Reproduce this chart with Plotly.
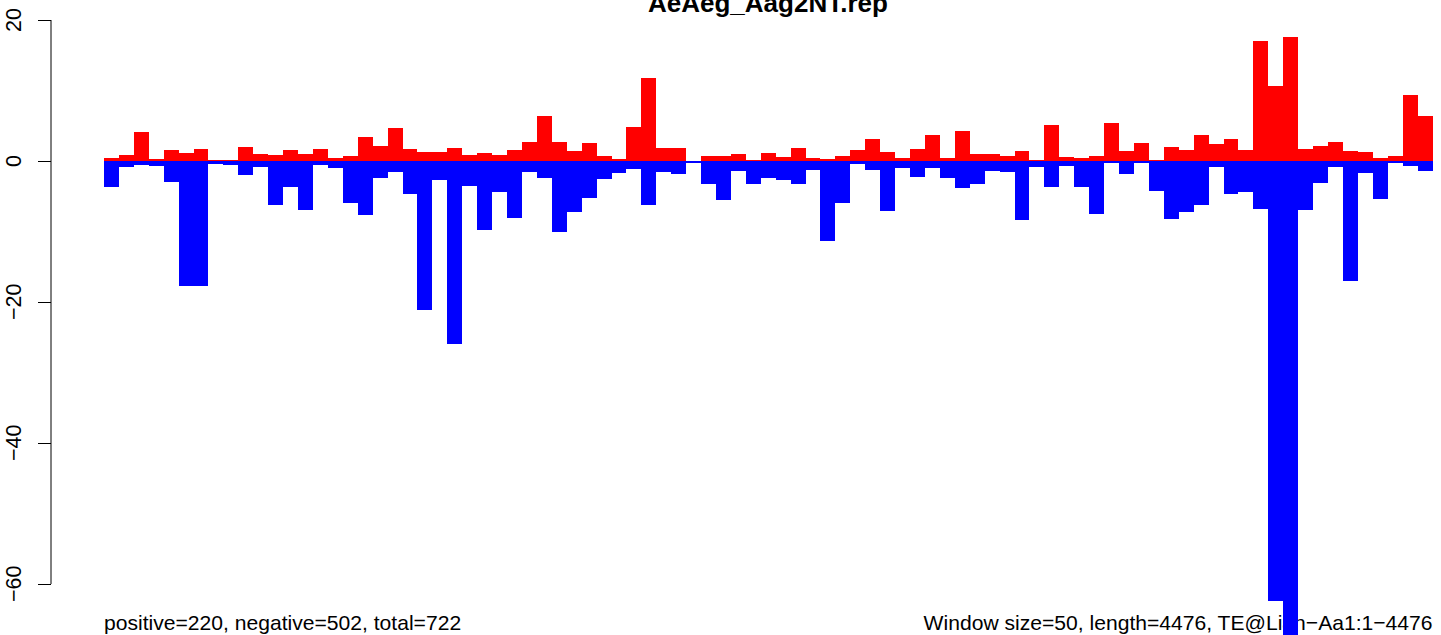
import numpy as np
import plotly.graph_objects as go

title = "AeAeg_Aag2NT.rep"

positive = [0.43, 0.85, 4.11, 0.28, 1.56, 1.13, 1.70, 0.14, 0.14, 1.99,
            0.99, 0.85, 1.56, 0.99, 1.70, 0.43, 0.71, 3.40, 2.13, 4.68,
            1.70, 1.28, 1.28, 1.84, 0.85, 1.13, 0.85, 1.56, 2.70, 6.38,
            2.70, 1.42, 2.55, 0.71, 0.28, 4.82, 11.8, 1.84, 1.84, 0.0,
            0.71, 0.71, 0.99, 0.14, 1.13, 0.57, 1.84, 0.43, 0.28, 0.71,
            1.56, 3.12, 1.28, 0.43, 1.70, 3.69, 0.43, 4.26, 0.99, 0.99,
            0.71, 1.42, 0.14, 5.11, 0.57, 0.43, 0.71, 5.39, 1.42, 2.55,
            0.14, 1.99, 1.56, 3.69, 2.41, 3.12, 1.56, 17.0, 10.64, 17.6,
            1.70, 2.13, 2.70, 1.42, 1.28, 0.43, 0.71, 9.36, 6.38]

negative = [-3.64, -0.80, -0.57, -0.71, -2.93, -17.7, -17.8, -0.43, -0.57, -1.94,
            -0.80, -6.20, -3.64, -6.90, -0.57, -0.94, -5.90, -7.60, -2.36, -1.51,
            -4.64, -21.1, -2.65, -25.9, -3.50, -9.74, -4.35, -8.04, -1.51, -2.36,
            -10.0, -7.20, -5.20, -2.50, -1.65, -1.09, -6.30, -1.51, -1.80, -0.30,
            -3.20, -5.50, -1.37, -3.20, -2.36, -2.65, -3.20, -1.23, -11.4, -5.90,
            -0.38, -1.23, -7.05, -0.94, -2.22, -0.94, -2.36, -3.78, -3.20, -1.37,
            -1.51, -8.30, -0.80, -3.64, -0.66, -3.64, -7.50, -0.24, -1.80, -0.24,
            -4.20, -8.20, -7.20, -6.30, -0.80, -4.64, -4.35, -6.77, -62.4, -72.0,
            -6.90, -3.07, -0.80, -17.0, -1.65, -5.35, -0.24, -0.66, -1.37]

y_ticks = [20, 0, -20, -40, -60]
y_tick_text = ["20", "0", "\u221220", "\u221240", "\u221260"]

left_note = "positive=220, negative=502, total=722"
right_note = "Window size=50, length=4476, TE@Lian\u2212Aa1:1\u22124476"

FONT = "Liberation Sans, Arial, Helvetica, sans-serif"
W, H = 1441, 635

n = len(positive)
xc = np.arange(n) + 0.5

# pixel geometry of the plotting region
x_left_px, x_right_px = 104.0, 1432.5
px_per_bar = (x_right_px - x_left_px) / n
x_range = [-x_left_px / px_per_bar, (W - x_left_px) / px_per_bar]
zero_px, px_per_unit = 161.0, 7.05
y_range = [(zero_px - H) / px_per_unit, zero_px / px_per_unit]
axis_px = 51.0

def ypix_to_val(py):
    return (zero_px - py) / px_per_unit

fig = go.Figure()

# footer texts on the base subplot (drawn beneath the bars)
fig.add_trace(go.Scatter(
    x=[0, n], y=[ypix_to_val(625), ypix_to_val(625)],
    mode="text", text=[left_note, right_note],
    textposition=["middle right", "middle left"],
    textfont=dict(family=FONT, size=21.1, color="black"),
    hoverinfo="skip", showlegend=False, xaxis="x", yaxis="y",
))

fig.add_trace(go.Bar(
    x=xc, y=positive, width=1.0, marker=dict(color="#FF0000", line=dict(width=0)),
    showlegend=False, xaxis="x", yaxis="y2",
))
fig.add_trace(go.Bar(
    x=xc, y=negative, width=1.0, marker=dict(color="#0000FF", line=dict(width=0)),
    showlegend=False, xaxis="x", yaxis="y2",
))

annotations = [dict(
    text="<b>" + title + "</b>", xref="paper", yref="paper",
    x=(x_left_px + x_right_px) / 2 / W, y=1 - 3 / H,
    xanchor="center", yanchor="middle", showarrow=False,
    font=dict(family=FONT, size=26, color="black"),
)]
for v, t in zip(y_ticks, y_tick_text):
    annotations.append(dict(
        text=t, xref="paper", yref="y", x=14 / W, y=v,
        xanchor="center", yanchor="middle", textangle=-90, showarrow=False,
        font=dict(family=FONT, size=21.5, color="black"),
    ))

fig.update_layout(
    width=W, height=H, autosize=False,
    margin=dict(l=0, r=0, t=0, b=0, pad=0),
    paper_bgcolor="white", plot_bgcolor="white",
    barmode="overlay", bargap=0,
    xaxis=dict(range=x_range, visible=False, fixedrange=True),
    yaxis=dict(range=y_range, anchor="free", position=axis_px / W,
               tickmode="array", tickvals=y_ticks, ticks="outside",
               ticklen=13, tickwidth=1, tickcolor="black",
               showticklabels=False, showgrid=False, zeroline=False,
               showline=False, fixedrange=True),
    yaxis2=dict(range=y_range, overlaying="y", visible=False,
                showgrid=False, zeroline=False, fixedrange=True),
    shapes=[dict(type="line", xref="paper", yref="y",
                 x0=axis_px / W, x1=axis_px / W,
                 y0=max(y_ticks), y1=min(y_ticks),
                 line=dict(color="black", width=1))],
    annotations=annotations,
)

fig.write_html(
    "out.html",
    config={"displayModeBar": False},
    post_script="document.body.style.margin='0';document.body.style.overflow='hidden';",
)
